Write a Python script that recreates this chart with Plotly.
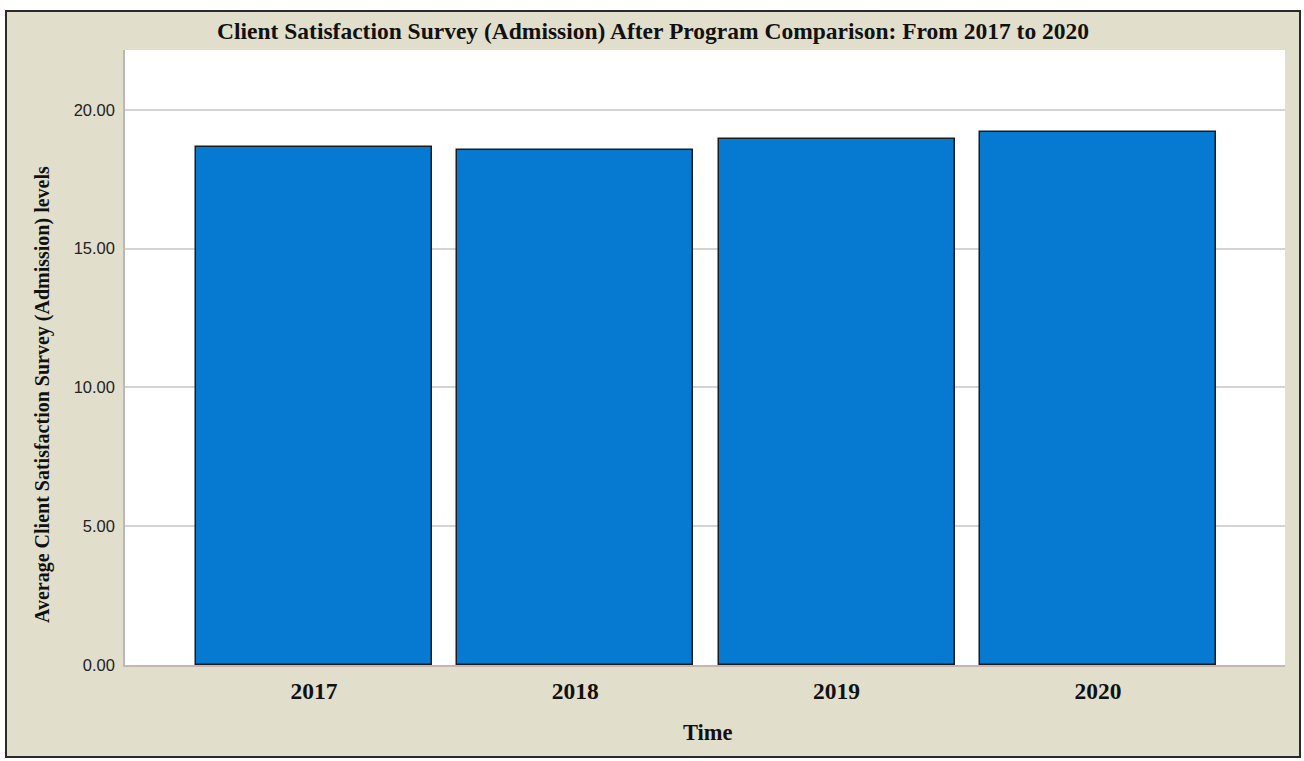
import plotly.graph_objects as go

years = ["2017", "2018", "2019", "2020"]
avg_levels = [18.67, 18.56, 18.95, 19.19]
y_ticks = [0, 5, 10, 15, 20]
y_tick_labels = ["0.00", "5.00", "10.00", "15.00", "20.00"]

title_text = "Client Satisfaction Survey (Admission) After Program Comparison: From 2017 to 2020"
y_title = "Average Client Satisfaction Survey (Admission) levels"
x_title = "Time"

W, H = 1304, 761
L, R, T, B = 125, 19, 50, 96
pw, ph = W - L - R, H - T - B

def px_to_paper_x(px):
    return (px - L) / pw

def px_to_paper_y(py):
    return (H - B - py) / ph

beige = "#e1dfcc"
serif = "Liberation Serif"

fig = go.Figure()
fig.add_trace(go.Bar(
    x=[0, 1, 2, 3],
    y=avg_levels,
    width=0.903,
    marker=dict(color="#0679d0", line=dict(color="#1c1c1c", width=1.5)),
    hoverinfo="y",
))

shapes = [
    dict(type="rect", xref="paper", yref="paper",
         x0=px_to_paper_x(6), x1=px_to_paper_x(1300),
         y0=px_to_paper_y(757), y1=px_to_paper_y(11),
         fillcolor=beige, line=dict(color="#2a2a2a", width=2), layer="below"),
    dict(type="rect", xref="paper", yref="paper",
         x0=0, x1=1, y0=0, y1=1,
         fillcolor="white", line=dict(width=0), layer="below"),
]

annotations = [
    dict(text="<b>" + title_text + "</b>", xref="paper", yref="paper",
         x=px_to_paper_x(653), y=px_to_paper_y(31), showarrow=False,
         xanchor="center", yanchor="middle",
         font=dict(family=serif, size=23.5, color="#111111")),
    dict(text="<b>" + y_title + "</b>", xref="paper", yref="paper",
         x=px_to_paper_x(42), y=px_to_paper_y(395), showarrow=False,
         textangle=-90, xanchor="center", yanchor="middle",
         font=dict(family=serif, size=20, color="#111111")),
    dict(text="<b>" + x_title + "</b>", xref="paper", yref="paper",
         x=px_to_paper_x(708), y=px_to_paper_y(732), showarrow=False,
         xanchor="center", yanchor="middle",
         font=dict(family=serif, size=22.5, color="#111111")),
]

fig.update_layout(
    width=W, height=H,
    margin=dict(l=L, r=R, t=T, b=B, pad=0),
    paper_bgcolor="white",
    plot_bgcolor="white",
    showlegend=False,
    bargap=0,
    shapes=shapes,
    annotations=annotations,
    xaxis=dict(
        range=[-0.723, 3.716],
        tickmode="array", tickvals=[0, 1, 2, 3],
        ticktext=["<b>" + y + "</b>" for y in years],
        tickfont=dict(family=serif, size=23.5, color="#111111"),
        showgrid=False, zeroline=False, ticks="",
        showline=True, linecolor="#c9b5b0", linewidth=2,
        ticklabelstandoff=4,
    ),
    yaxis=dict(
        range=[0, 22.16],
        tickmode="array", tickvals=y_ticks, ticktext=y_tick_labels,
        tickfont=dict(family="Liberation Sans", size=16.5, color="#222222"),
        showgrid=True, gridcolor="#d4d4d4", gridwidth=1.5,
        zeroline=False, ticks="",
        showline=True, linecolor="#b8b8b8", linewidth=1.5,
        ticklabelstandoff=5,
    ),
)

fig.write_html("out.html")
